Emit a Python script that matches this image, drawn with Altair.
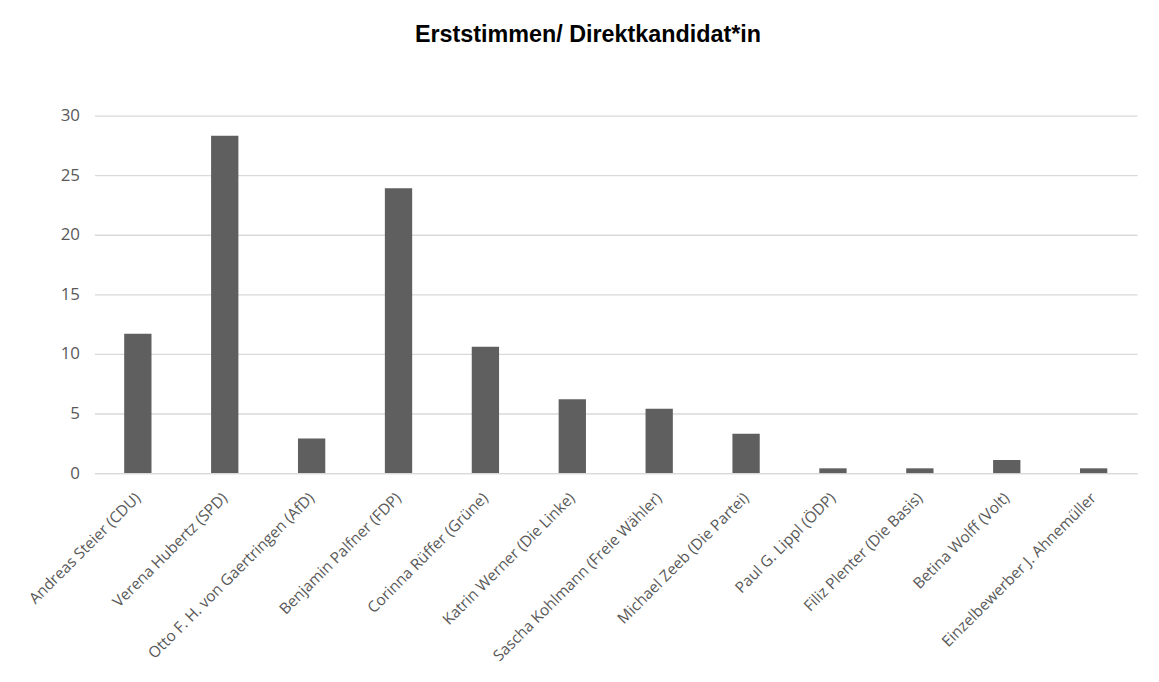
import altair as alt
import pandas as pd

candidates = [
    "Andreas Steier (CDU)",
    "Verena Hubertz (SPD)",
    "Otto F. H. von Gaertringen (AfD)",
    "Benjamin Palfner (FDP)",
    "Corinna Rüffer (Grüne)",
    "Katrin Werner (Die Linke)",
    "Sascha Kohlmann (Freie Wähler)",
    "Michael Zeeb (Die Partei)",
    "Paul G. Lippl (ÖDP)",
    "Filiz Plenter (Die Basis)",
    "Betina Wolff (Volt)",
    "Einzelbewerber J. Ahnemüller",
]
values = [11.7, 28.3, 2.9, 23.9, 10.6, 6.2, 5.4, 3.3, 0.4, 0.4, 1.1, 0.4]
y_ticks = [0, 5, 10, 15, 20, 25, 30]

df = pd.DataFrame({"Kandidat": candidates, "Prozent": values})

chart = (
    alt.Chart(df)
    .mark_bar(color="#5f5f5f", size=27.5)
    .encode(
        x=alt.X(
            "Kandidat:N",
            sort=candidates,
            title=None,
            scale=alt.Scale(paddingInner=0, paddingOuter=0),
            axis=alt.Axis(
                labelAngle=-45,
                labelAlign="right",
                labelBaseline="middle",
                labelFont="Open Sans",
                labelFontSize=15.5,
                labelColor="#595959",
                labelPadding=22,
                ticks=False,
                domainColor="#d9d9d9",
                domainWidth=1.3,
                labelLimit=400,
            ),
        ),
        y=alt.Y(
            "Prozent:Q",
            title=None,
            scale=alt.Scale(domain=[0, 30], nice=False),
            axis=alt.Axis(
                values=y_ticks,
                labelFont="Open Sans",
                labelFontSize=17,
                labelColor="#595959",
                labelPadding=15,
                ticks=False,
                domain=False,
                gridColor="#d9d9d9",
                gridWidth=1.3,
            ),
        ),
    )
    .properties(
        width=1050,
        height=360,
        title=alt.TitleParams(
            "Erststimmen/ Direktkandidat*in",
            font="Liberation Sans",
            fontSize=23.5,
            fontWeight="bold",
            color="#000000",
            anchor="middle",
            frame="group",
            dx=-28,
            offset=61,
        ),
        autosize=alt.AutoSizeParams(type="none"),
        padding={"left": 87, "top": 106, "right": 14, "bottom": 204},
    )
    .configure_view(stroke=None)
)

chart.save("out.html", embed_options={"renderer": "svg", "actions": False})
